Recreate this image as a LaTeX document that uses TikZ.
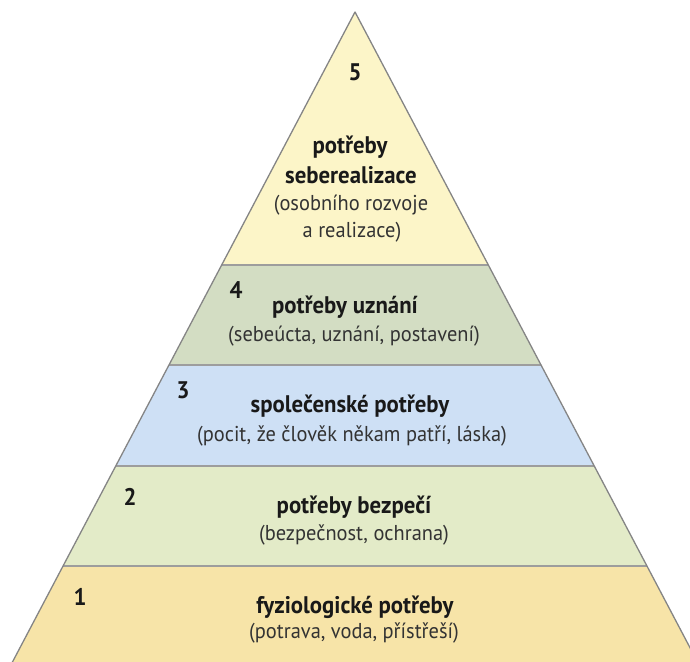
\documentclass[tikz,border=0pt]{standalone}
\usepackage{fontspec}
\setmainfont{PT Sans}[FakeStretch=0.95]
\usetikzlibrary{calc}

\definecolor{levelA}{HTML}{F7E4A8}
\definecolor{levelB}{HTML}{E3EBC8}
\definecolor{levelC}{HTML}{CEE0F5}
\definecolor{levelD}{HTML}{D3DDC3}
\definecolor{levelE}{HTML}{FCF5C8}
\definecolor{edgegray}{HTML}{858585}

\begin{document}
\begin{tikzpicture}[x=1pt,y=-1pt,
    title/.style={anchor=base,font=\bfseries\fontsize{24}{28}\selectfont,text=black!90},
    note/.style={anchor=base,font=\fontsize{21.5}{26}\selectfont,text=black!80},
    num/.style={anchor=base,font=\bfseries\fontsize{24}{28}\selectfont,text=black!90}]
  \useasboundingbox (0,0) rectangle (690,661);
  \begin{scope}
    \clip (0,0) rectangle (690,661);
    % layers of the pyramid
    \foreach \ya/\yb/\col in {12/265/levelE, 265/365/levelD, 365/466/levelC, 466/566/levelB, 566/700/levelA} {
      \pgfmathsetmacro\wa{0.527*(\ya-12)}
      \pgfmathsetmacro\wb{0.527*(\yb-12)}
      \fill[\col] ({355-\wa},\ya) -- ({355+\wa},\ya) -- ({355+\wb},\yb) -- ({355-\wb},\yb) -- cycle;
    }
    \foreach \y in {265,365,466,566} {
      \pgfmathsetmacro\w{0.527*(\y-12)}
      \draw[edgegray!80, line width=2pt] ({355-\w},\y) -- ({355+\w},\y);
    }
    \coordinate (apex) at (355,12);
    \coordinate (left) at ({355-0.527*688},700);
    \coordinate (right) at ({355+0.527*688},700);
    \draw[edgegray, line width=1.3pt, line join=round] (left) -- (apex) -- (right);
  \end{scope}

  % level 5
  \node[num]   (n5) at (355,80)  {5};
  \node[title] (t5a) at (350,153) {potřeby};
  \node[title] (t5b) at (351,183) {seberealizace};
  \node[note]  (s5a) at (351,210) {(osobního rozvoje};
  \node[note]  (s5b) at (352,237) {a realizace)};
  % level 4
  \node[num]   (n4) at (236,298) {4};
  \node[title] (t4) at (345,313) {potřeby uznání};
  \node[note]  (s4) at (354,341) {(sebeúcta, uznání, postavení)};
  % level 3
  \node[num]   (n3) at (183,398) {3};
  \node[title] (t3) at (350,412) {společenské potřeby};
  \node[note]  (s3) at (352,441) {(pocit, že člověk někam patří, láska)};
  % level 2
  \node[num]   (n2) at (130,505) {2};
  \node[title] (t2) at (354,513) {potřeby bezpečí};
  \node[note]  (s2) at (354,540) {(bezpečnost, ochrana)};
  % level 1
  \node[num]   (n1) at (80,605)  {1};
  \node[title] (t1) at (355,613) {fyziologické potřeby};
  \node[note]  (s1) at (354,638) {(potrava, voda, přístřeší)};
\end{tikzpicture}
\end{document}
